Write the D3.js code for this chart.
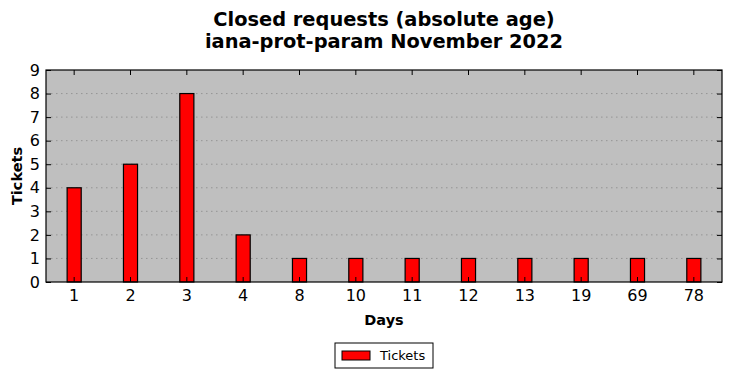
<!DOCTYPE html>
<html><head><meta charset="utf-8">
<script src="https://cdn.jsdelivr.net/npm/d3@7"></script>
<style>body{margin:0;background:#fff;} svg{display:block;font-family:"DejaVu Sans",sans-serif;}</style>
</head><body>
<script>
const categories = ["1","2","3","4","8","10","11","12","13","19","69","78"];
const tickets = [4,5,8,2,1,1,1,1,1,1,1,1];
const yTicks = [0,1,2,3,4,5,6,7,8,9];
const titleLines = ["Closed requests (absolute age)","iana-prot-param November 2022"];

const W=732,H=378;
const m={l:46,r:10,t:70,b:96};
const svg=d3.select("body").append("svg").attr("width",W).attr("height",H);
const iw=W-m.l-m.r, ih=H-m.t-m.b;
const g=svg.append("g").attr("transform",`translate(${m.l},${m.t})`);
const x=d3.scaleBand().domain(categories).range([0,iw]);
const y=d3.scaleLinear().domain([0,9]).range([ih,0]);

g.append("rect").attr("width",iw).attr("height",ih).attr("fill","#bfbfbf");
g.selectAll(".grid").data(yTicks.slice(1,-1)).enter().append("line")
 .attr("x1",0).attr("x2",iw).attr("y1",d=>y(d)).attr("y2",d=>y(d))
 .attr("stroke","#8a8a8a").attr("stroke-width",0.8).attr("stroke-dasharray","1.5,3.5");

const bw=x.bandwidth()*0.25;
g.selectAll(".bar").data(tickets).enter().append("rect")
 .attr("x",(d,i)=>x(categories[i])+x.bandwidth()/2-bw/2)
 .attr("y",d=>y(d)).attr("width",bw).attr("height",d=>ih-y(d))
 .attr("fill","#ff0000").attr("stroke","#000").attr("stroke-width",1.2);

// axes
const fs=16;
const xb=g.append("g").attr("transform",`translate(0,${ih})`).call(d3.axisBottom(x).tickSizeInner(-5).tickSizeOuter(0).tickPadding(8));
const xt=g.append("g").call(d3.axisTop(x).tickSizeInner(-5).tickSizeOuter(0).tickFormat(""));
const yl=g.append("g").call(d3.axisLeft(y).tickValues(yTicks).tickSizeInner(-5).tickSizeOuter(0).tickPadding(6));
const yr=g.append("g").attr("transform",`translate(${iw},0)`).call(d3.axisRight(y).tickValues(yTicks).tickSizeInner(-5).tickSizeOuter(0).tickFormat(""));
[xb,xt,yl,yr].forEach(a=>{a.select(".domain").remove();a.selectAll("line").attr("stroke","#000");a.selectAll("text").attr("font-size",fs).attr("font-family","DejaVu Sans").attr("fill","#000");});
g.append("rect").attr("width",iw).attr("height",ih).attr("fill","none").attr("stroke","#000").attr("stroke-width",1.2);

// titles
svg.selectAll(".title").data(titleLines).enter().append("text")
 .attr("x",m.l+iw/2).attr("y",(d,i)=>25.5+i*22).attr("text-anchor","middle")
 .attr("font-size",19.4).attr("font-weight","bold").text(d=>d);
svg.append("text").attr("x",m.l+iw/2).attr("y",325).attr("text-anchor","middle").attr("font-size",14.5).attr("font-weight","bold").text("Days");
svg.append("text").attr("transform",`translate(22,${m.t+ih/2}) rotate(-90)`).attr("text-anchor","middle").attr("font-size",14.5).attr("font-weight","bold").text("Tickets");

// legend
const lg=svg.append("g").attr("transform","translate(335,343)");
lg.append("rect").attr("width",98).attr("height",25).attr("fill","#fff").attr("stroke","#000").attr("stroke-width",1);
lg.append("rect").attr("x",7).attr("y",8).attr("width",28).attr("height",9).attr("fill","#ff0000").attr("stroke","#000").attr("stroke-width",1);
lg.append("text").attr("x",45).attr("y",17).attr("font-size",13).text("Tickets");
</script>
</body></html>
